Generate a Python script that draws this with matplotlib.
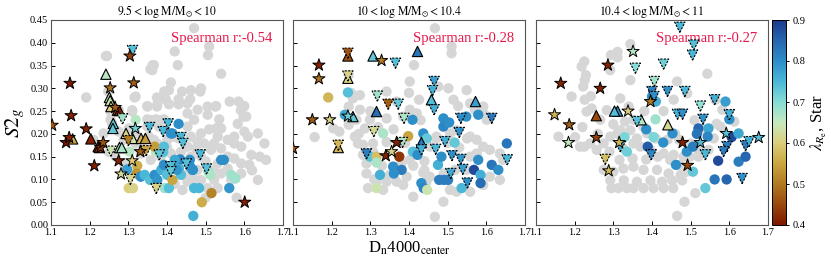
import matplotlib
matplotlib.use("Agg")
import matplotlib.pyplot as plt
from matplotlib.colors import LinearSegmentedColormap, Normalize
import numpy as np

plt.rcParams['font.family'] = ['Liberation Serif', 'DejaVu Serif']
plt.rcParams['mathtext.fontset'] = 'stix'

titles = [r"$9.5<\log\,\mathrm{M/M_{\odot}}<10$",
          r"$10<\log\,\mathrm{M/M_{\odot}}<10.4$",
          r"$10.4<\log\,\mathrm{M/M_{\odot}}<11$"]
spearman = [-0.54, -0.28, -0.27]

# ---------------- Panel 1 ----------------
p1_grey_x = [1.47,1.509,1.506,1.42,1.245,1.366,1.362,1.428,1.54,1.41,1.405,1.488,1.462,1.439,1.486,1.397,1.43,1.46,1.191,1.319,
             1.349,1.375,1.405,1.43,1.527,1.562,1.585,1.591,1.60,1.598,1.505,1.535,1.605,1.349,1.371,1.392,1.453,1.31,1.254,1.583,
             1.54,1.527,1.509,1.6,1.635,1.609,1.574,1.557,1.531,1.488,1.462,1.479,1.496,1.453,1.475,1.514,1.54,1.574,1.592,1.652,
             1.656,1.64,1.618,1.613,1.592,1.574,1.557,1.531,1.488,1.462,1.436,1.41,1.384,1.358,1.436,1.635,1.592,1.566,1.54,1.522,
             1.488,1.453,1.44,1.505,1.531,1.557,1.479,1.366,1.353,1.349,1.319,1.288,1.275,1.258,1.275,1.254,1.236,1.21,1.267,1.288,
             1.332,1.319,1.301,1.522,1.418,1.401,1.375,1.379,1.453,1.47,1.479,1.505,1.453,1.525,1.25,1.45,1.47,1.52,1.50,1.40,
             1.43,1.242,1.248,1.316,1.31,1.357,1.363,1.374,1.35,1.374,1.393,1.359,1.384,1.42,1.50,1.58,1.62]
p1_grey_y = [0.432,0.392,0.373,0.381,0.371,0.351,0.34,0.351,0.332,0.313,0.296,0.300,0.296,0.293,0.293,0.276,0.276,0.276,0.280,0.282,
             0.261,0.265,0.265,0.265,0.261,0.271,0.271,0.252,0.261,0.238,0.242,0.232,0.238,0.232,0.232,0.232,0.245,0.249,0.249,0.222,
             0.212,0.212,0.210,0.205,0.201,0.194,0.194,0.187,0.194,0.201,0.194,0.183,0.179,0.172,0.168,0.165,0.168,0.179,0.172,0.179,
             0.143,0.150,0.154,0.132,0.135,0.146,0.150,0.135,0.150,0.150,0.161,0.157,0.150,0.143,0.135,0.099,0.113,0.099,0.113,0.099,
             0.099,0.095,0.077,0.081,0.081,0.124,0.121,0.187,0.194,0.216,0.179,0.187,0.205,0.223,0.253,0.231,0.201,0.187,0.150,0.135,
             0.157,0.201,0.212,0.179,0.194,0.187,0.179,0.216,0.216,0.231,0.253,0.260,0.267,0.26,0.16,0.11,0.10,0.12,0.14,0.17,
             0.19,0.371,0.293,0.28,0.252,0.342,0.351,0.28,0.26,0.26,0.293,0.23,0.23,0.09,0.06,0.06,0.12]
p1_circ_x = [1.323,1.321,1.301,1.312,1.297,1.332,1.342,1.356,1.368,1.375,1.385,1.392,1.40,1.394,1.405,1.371,1.368,1.392,1.414,1.418,
             1.431,1.436,1.434,1.414,1.43,1.319,1.303,1.46,1.466,1.47,1.483,1.507,1.512,1.49,1.515,1.468,1.54,1.547,1.566,1.577,
             1.561,1.41,1.459,1.426,1.467,1.42,1.39]
p1_circ_y = [0.130,0.113,0.081,0.081,0.122,0.106,0.110,0.099,0.110,0.099,0.121,0.132,0.110,0.081,0.081,0.161,0.172,0.172,0.099,0.130,
             0.124,0.110,0.144,0.201,0.222,0.231,0.161,0.128,0.121,0.081,0.081,0.117,0.110,0.050,0.070,0.020,0.143,0.143,0.110,0.102,
             0.081,0.201,0.143,0.121,0.121,0.143,0.16]
p1_circ_c = [0.56,0.53,0.60,0.61,0.78,0.80,0.75,0.74,0.80,0.79,0.76,0.80,0.74,0.68,0.74,0.66,0.54,0.74,0.55,0.61,
             0.75,0.74,0.81,0.80,0.80,0.66,0.66,0.80,0.78,0.75,0.75,0.68,0.67,0.56,0.51,0.76,0.80,0.80,0.68,0.68,
             0.79,0.80,0.80,0.79,0.80,0.77,0.74]
p1_star_x = [1.103,1.149,1.152,1.139,1.147,1.191,1.212,1.228,1.235,1.253,1.266,1.275,1.281,1.304,1.314,1.31,1.331,1.601,1.318]
p1_star_y = [0.219,0.311,0.240,0.181,0.192,0.211,0.130,0.170,0.181,0.301,0.258,0.141,0.112,0.371,0.312,0.141,0.161,0.050,0.212]
p1_star_c = [0.46,0.40,0.41,0.40,0.41,0.41,0.41,0.43,0.46,0.49,0.47,0.41,0.62,0.44,0.47,0.60,0.47,0.41,0.72]
p1_up_x = [1.242,1.251,1.253,1.255,1.272,1.277,1.261,1.260,1.294,1.156,1.203,1.222,1.225,1.277,1.283,1.311,1.333,1.344]
p1_up_y = [0.331,0.280,0.273,0.260,0.252,0.251,0.223,0.212,0.201,0.189,0.189,0.172,0.170,0.170,0.170,0.190,0.190,0.190]
p1_up_c = [0.66,0.66,0.64,0.60,0.46,0.41,0.73,0.73,0.61,0.56,0.41,0.45,0.43,0.66,0.67,0.64,0.57,0.54]
p1_dn_x = [1.311,1.285,1.355,1.39,1.403,1.436,1.441,1.255,1.346,1.38,1.305,1.372,1.486,1.45,1.41,1.41,1.502,1.30]
p1_dn_y = [0.383,0.233,0.214,0.205,0.222,0.192,0.179,0.162,0.163,0.154,0.100,0.080,0.154,0.134,0.128,0.117,0.123,0.185]
p1_dn_c = [0.74,0.68,0.75,0.75,0.75,0.75,0.74,0.64,0.55,0.73,0.62,0.61,0.75,0.74,0.74,0.73,0.74,0.50]

# ---------------- Panel 2 ----------------
p2_grey_x = [1.467,1.51,1.51,1.413,1.244,1.402,1.549,1.502,1.476,1.342,1.40,1.255,1.273,1.244,1.368,1.426,1.515,1.558,1.571,1.592,
             1.596,1.601,1.527,1.402,1.42,1.385,1.342,1.299,1.273,1.264,1.244,1.204,1.156,1.26,1.286,1.268,1.281,1.307,1.342,1.307,
             1.281,1.29,1.29,1.294,1.333,1.316,1.342,1.36,1.368,1.385,1.38,1.402,1.411,1.394,1.437,1.454,1.44,1.454,1.471,1.506,
             1.523,1.558,1.575,1.592,1.575,1.558,1.609,1.635,1.643,1.635,1.609,1.506,1.489,1.467,1.523,1.548,1.519,1.49,1.445,1.411,
             1.558,1.592,1.36,1.32,1.30,1.25,1.22,1.33,1.44,1.47,1.50,1.53,1.35,1.31,1.27,1.43,1.39,1.55]
p2_grey_y = [0.432,0.392,0.377,0.351,0.329,0.315,0.296,0.300,0.304,0.293,0.290,0.278,0.285,0.260,0.271,0.275,0.275,0.267,0.253,0.260,
             0.242,0.231,0.261,0.253,0.245,0.238,0.234,0.231,0.253,0.231,0.220,0.212,0.193,0.194,0.212,0.179,0.176,0.179,0.182,0.161,
             0.154,0.135,0.113,0.081,0.077,0.095,0.095,0.128,0.095,0.088,0.135,0.143,0.130,0.106,0.115,0.106,0.120,0.172,0.194,0.201,
             0.208,0.194,0.187,0.172,0.157,0.150,0.165,0.157,0.143,0.099,0.106,0.077,0.051,0.018,0.073,0.121,0.121,0.113,0.095,0.062,
             0.073,0.088,0.210,0.215,0.250,0.290,0.205,0.130,0.140,0.190,0.180,0.170,0.110,0.100,0.200,0.230,0.180,0.190]
p2_circ_x = [1.191,1.242,1.234,1.333,1.299,1.316,1.316,1.325,1.316,1.359,1.381,1.361,1.375,1.398,1.409,1.41,1.422,1.437,1.446,1.432,
             1.438,1.447,1.475,1.489,1.489,1.504,1.518,1.478,1.49,1.501,1.484,1.536,1.548,1.579,1.568,1.585,1.585,1.614,1.631,1.653,
             1.579]
p2_circ_y = [0.280,0.291,0.242,0.201,0.150,0.150,0.137,0.110,0.081,0.128,0.121,0.113,0.150,0.195,0.231,0.161,0.154,0.201,0.190,0.092,
             0.081,0.077,0.132,0.234,0.216,0.225,0.181,0.099,0.099,0.099,0.150,0.081,0.238,0.242,0.121,0.110,0.092,0.132,0.121,0.179,
             0.143]
p2_circ_c = [0.57,0.74,0.77,0.67,0.74,0.58,0.67,0.76,0.64,0.80,0.82,0.80,0.43,0.55,0.80,0.74,0.80,0.80,0.73,0.80,
             0.81,0.64,0.76,0.80,0.81,0.80,0.73,0.82,0.82,0.82,0.80,0.75,0.80,0.80,0.88,0.76,0.84,0.83,0.80,0.83,
             0.80]
p2_star_x = [1.167,1.167,1.150,1.195,1.242,1.329,1.368,1.34,1.355,1.10]
p2_star_y = [0.351,0.321,0.231,0.231,0.239,0.361,0.181,0.152,0.161,0.168]
p2_star_c = [0.41,0.49,0.47,0.61,0.72,0.50,0.41,0.41,0.61,0.46]
p2_up_x = [1.242,1.242,1.307,1.422,1.316,1.255,1.217,1.458,1.572,1.432]
p2_up_y = [0.371,0.322,0.371,0.381,0.249,0.238,0.170,0.275,0.271,0.181]
p2_up_c = [0.46,0.61,0.73,0.83,0.84,0.73,0.57,0.74,0.78,0.83]
p2_dn_x = [1.242,1.242,1.217,1.365,1.318,1.346,1.372,1.387,1.309,1.383,1.465,1.461,1.465,1.534,1.53,1.493,1.469,1.614,1.511,1.534,
           1.539,1.508,1.551,1.654,1.432,1.29]
p2_dn_y = [0.377,0.327,0.175,0.355,0.283,0.265,0.265,0.234,0.205,0.181,0.315,0.295,0.253,0.234,0.203,0.183,0.166,0.234,0.152,0.144,
           0.122,0.113,0.092,0.143,0.165,0.156]
p2_dn_c = [0.46,0.61,0.57,0.74,0.68,0.47,0.73,0.67,0.62,0.67,0.78,0.76,0.76,0.80,0.80,0.76,0.75,0.83,0.80,0.79,
           0.78,0.77,0.80,0.75,0.76,0.82]

# ---------------- Panel 3 ----------------
p3_grey_x = [1.465,1.484,1.512,1.295,1.313,1.335,1.352,1.378,1.404,1.43,1.455,1.292,1.327,1.361,1.396,1.426,1.452,1.478,1.275,1.30,
             1.326,1.352,1.378,1.413,1.443,1.474,1.49,1.316,1.35,1.385,1.415,1.447,1.47,1.498,1.29,1.326,1.352,1.37,1.396,1.43,
             1.456,1.482,1.52,1.546,1.214,1.225,1.24,1.201,1.158,1.257,1.275,1.292,1.318,1.344,1.31,1.361,1.387,1.41,1.44,1.47,
             1.50,1.52,1.577,1.231,1.244,1.226,1.242,1.222,1.226,1.229,1.192,1.218,1.225,1.294,1.311,1.311,1.292,1.344,1.344,1.318,
             1.283,1.266,1.30,1.33,1.352,1.378,1.465,1.491,1.456,1.543,1.564,1.582,1.613,1.567,1.43,1.38,1.53,1.51,1.46,1.56,
             1.34,1.22,1.26]
p3_grey_y = [0.020,0.051,0.070,0.081,0.081,0.081,0.081,0.081,0.081,0.081,0.081,0.098,0.098,0.095,0.098,0.095,0.098,0.098,0.121,0.117,
             0.124,0.128,0.121,0.121,0.113,0.110,0.117,0.143,0.146,0.144,0.150,0.143,0.132,0.150,0.161,0.168,0.179,0.172,0.165,0.157,
             0.154,0.150,0.150,0.165,0.172,0.172,0.179,0.193,0.194,0.165,0.179,0.194,0.208,0.208,0.201,0.190,0.201,0.190,0.187,0.187,
             0.179,0.165,0.216,0.249,0.256,0.275,0.283,0.304,0.318,0.329,0.282,0.348,0.359,0.373,0.380,0.368,0.340,0.397,0.318,0.278,
             0.252,0.231,0.221,0.227,0.231,0.216,0.315,0.289,0.275,0.332,0.275,0.253,0.227,0.222,0.250,0.250,0.210,0.230,0.200,0.190,
             0.260,0.215,0.200]
p3_circ_x = [1.409,1.385,1.404,1.389,1.329,1.335,1.41,1.453,1.429,1.462,1.49,1.506,1.506,1.52,1.546,1.544,1.516,1.538,1.562,1.593,
             1.571,1.59,1.60,1.606,1.624,1.624,1.642,1.40]
p3_circ_y = [0.232,0.210,0.193,0.172,0.193,0.161,0.271,0.201,0.181,0.132,0.161,0.172,0.117,0.212,0.212,0.194,0.200,0.081,0.100,0.100,
             0.141,0.271,0.232,0.193,0.201,0.139,0.150,0.282]
p3_circ_c = [0.68,0.80,0.71,0.86,0.71,0.72,0.76,0.80,0.80,0.80,0.80,0.82,0.73,0.85,0.77,0.81,0.83,0.73,0.83,0.85,
             0.88,0.78,0.80,0.88,0.77,0.82,0.85,0.80]
p3_star_x = [1.164,1.148,1.186,1.184,1.286,1.266,1.256,1.288,1.315,1.338,1.351,1.396,1.479,1.492,1.525,1.592,1.676]
p3_star_y = [0.311,0.242,0.220,0.181,0.351,0.300,0.192,0.119,0.181,0.250,0.381,0.271,0.181,0.131,0.181,0.201,0.192]
p3_star_c = [0.41,0.57,0.47,0.65,0.41,0.41,0.44,0.57,0.57,0.60,0.66,0.50,0.41,0.45,0.74,0.74,0.74]
p3_up_x = [1.256,1.311,1.372,1.441,1.303]
p3_up_y = [0.240,0.250,0.231,0.220,0.250]
p3_up_c = [0.45,0.80,0.66,0.62,0.74]
p3_dn_x = [1.472,1.508,1.505,1.43,1.357,1.406,1.40,1.405,1.44,1.485,1.562,1.525,1.466,1.479,1.532,1.60,1.318,1.279,1.398,1.538,
           1.594,1.585,1.642,1.651,1.633,1.361]
p3_dn_y = [0.434,0.395,0.373,0.353,0.344,0.315,0.293,0.282,0.293,0.293,0.275,0.261,0.243,0.243,0.232,0.242,0.172,0.144,0.154,0.154,
           0.172,0.161,0.174,0.183,0.102,0.227]
p3_dn_c = [0.75,0.74,0.75,0.72,0.70,0.68,0.82,0.80,0.80,0.75,0.76,0.69,0.76,0.80,0.80,0.76,0.75,0.58,0.81,0.75,
           0.82,0.82,0.82,0.76,0.80,0.74]

panels = [
    (p1_grey_x, p1_grey_y, p1_circ_x, p1_circ_y, p1_circ_c, p1_up_x, p1_up_y, p1_up_c, p1_dn_x, p1_dn_y, p1_dn_c, p1_star_x, p1_star_y, p1_star_c),
    (p2_grey_x, p2_grey_y, p2_circ_x, p2_circ_y, p2_circ_c, p2_up_x, p2_up_y, p2_up_c, p2_dn_x, p2_dn_y, p2_dn_c, p2_star_x, p2_star_y, p2_star_c),
    (p3_grey_x, p3_grey_y, p3_circ_x, p3_circ_y, p3_circ_c, p3_up_x, p3_up_y, p3_up_c, p3_dn_x, p3_dn_y, p3_dn_c, p3_star_x, p3_star_y, p3_star_c),
]

roma_like = ['#7e1700', '#9a4a0e', '#b07a22', '#c9a640', '#dccd7a', '#c6e9bf',
             '#86dcd6', '#4ab8d8', '#2e8ec8', '#2666b0', '#1a3a8c']
cmap = LinearSegmentedColormap.from_list('roma_like', roma_like)
norm = Normalize(vmin=0.4, vmax=0.9)

fig = plt.figure(figsize=(8.31, 2.63), dpi=100)
W, H = 831.0, 263.0
lefts = [51, 293, 536]
axw = 232
bottom, top = 225, 20
axes = []
for i, l in enumerate(lefts):
    ax = fig.add_axes([l / W, (H - bottom) / H, axw / W, (bottom - top) / H])
    axes.append(ax)

for i, (ax, d) in enumerate(zip(axes, panels)):
    gx, gy, cx, cy, cc, ux, uy, uc, dx, dy, dc, sx, sy, sc = d
    ax.scatter(gx, gy, s=55, c='#d6d6d6', edgecolors='none', zorder=1)
    ax.scatter(cx, cy, s=55, c=cc, cmap=cmap, norm=norm, edgecolors='none', zorder=2)
    ax.scatter(ux, uy, s=55, c=uc, cmap=cmap, norm=norm, marker='^', edgecolors='black', linewidths=0.8, zorder=3)
    ax.scatter(dx, dy, s=55, c=dc, cmap=cmap, norm=norm, marker='v', edgecolors='black', linewidths=0.8,
               linestyles=(0, (2.0, 1.2)), zorder=4)
    ax.scatter(sx, sy, s=85, c=sc, cmap=cmap, norm=norm, marker='*', edgecolors='black', linewidths=0.7, zorder=5)
    ax.set_xlim(1.1, 1.7)
    ax.set_ylim(0, 0.45)
    ax.set_xticks([1.1, 1.2, 1.3, 1.4, 1.5, 1.6, 1.7])
    ax.set_xticklabels(['1.1', '1.2', '1.3', '1.4', '1.5', '1.6', '1.7'])
    ax.set_yticks([0, 0.05, 0.1, 0.15, 0.2, 0.25, 0.3, 0.35, 0.4, 0.45])
    ax.tick_params(direction='in', length=3, width=0.7, labelsize=7.5, pad=2)
    if i == 0:
        ax.set_yticklabels(['0.00', '0.05', '0.10', '0.15', '0.20', '0.25', '0.30', '0.35', '0.40', '0.45'])
    else:
        ax.set_yticklabels([])
    for sp in ax.spines.values():
        sp.set_color('#555555')
        sp.set_linewidth(0.8)
    ax.set_title(titles[i], fontsize=8.5, pad=3)
    ax.text(0.955, 0.91, 'Spearman r:%.2f' % spearman[i], transform=ax.transAxes,
            ha='right', va='center', color='#e8174a', fontsize=10.5)

axes[0].set_ylabel(r'$S2_g$', fontsize=15, labelpad=2)
axes[1].set_xlabel(r'D$_\mathrm{n}$4000$_\mathrm{center}$', fontsize=12, labelpad=2)

cax = fig.add_axes([772 / W, (H - bottom) / H, 14 / W, (bottom - top) / H])
sm = matplotlib.cm.ScalarMappable(norm=norm, cmap=cmap)
cb = fig.colorbar(sm, cax=cax)
cb.set_ticks([0.4, 0.5, 0.6, 0.7, 0.8, 0.9])
cb.ax.tick_params(labelsize=7.5, length=2.5, width=0.7, pad=2)
cb.outline.set_linewidth(0.7)
cb.set_label(r'$\lambda_{R_{\rm e}}$, Star', fontsize=12, labelpad=3)

fig.savefig('out.png', dpi=100)
